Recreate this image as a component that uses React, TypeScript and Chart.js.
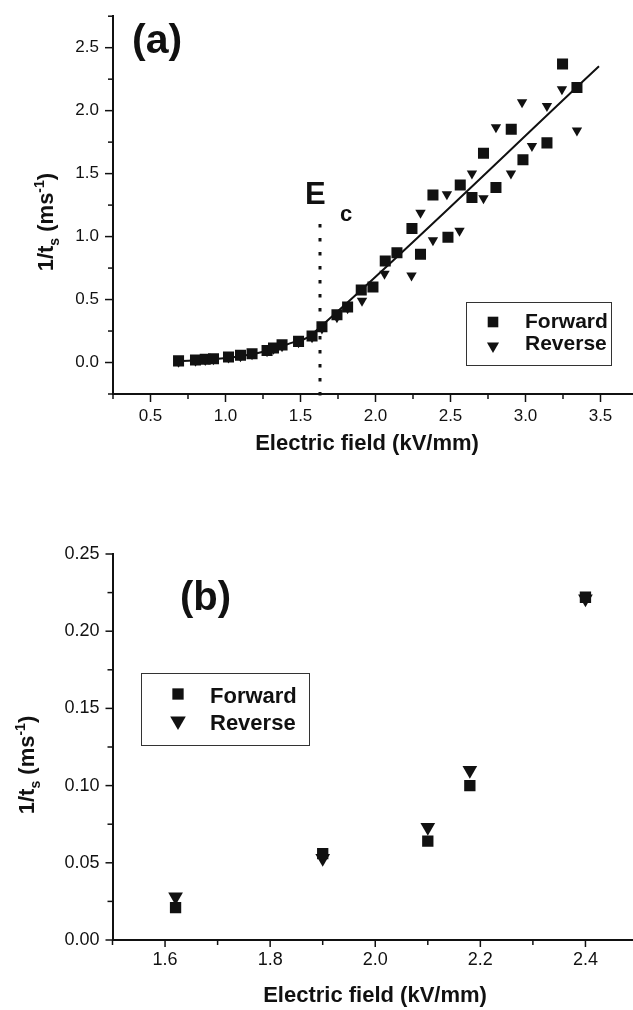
import React, { useEffect, useRef } from 'react';
import { Chart, registerables } from 'chart.js';

Chart.register(...registerables);

const FONT = '"Liberation Sans", Arial, Helvetica, sans-serif';
const INK = '#111111';

// ---------- Panel (a) data ----------
const aForwardX = [0.687, 0.80, 0.865, 0.92, 1.02, 1.10, 1.177, 1.277, 1.32, 1.377, 1.487, 1.577, 1.643, 1.743, 1.814, 1.905, 1.983, 2.065, 2.143, 2.243, 2.30, 2.383, 2.483, 2.565, 2.643, 2.72, 2.803, 2.905, 2.983, 3.143, 3.247, 3.343];
const aForwardY = [0.013, 0.02, 0.026, 0.03, 0.044, 0.057, 0.07, 0.096, 0.116, 0.14, 0.168, 0.21, 0.284, 0.38, 0.44, 0.575, 0.60, 0.806, 0.871, 1.065, 0.86, 1.331, 0.995, 1.409, 1.31, 1.662, 1.39, 1.853, 1.61, 1.744, 2.37, 2.184];
const aReverseX = [0.687, 0.80, 0.865, 0.92, 1.02, 1.10, 1.177, 1.277, 1.32, 1.377, 1.487, 1.577, 1.643, 1.743, 1.814, 1.91, 2.06, 2.24, 2.30, 2.383, 2.476, 2.56, 2.643, 2.72, 2.803, 2.903, 2.977, 3.043, 3.143, 3.243, 3.343];
const aReverseY = [0.006, 0.015, 0.02, 0.025, 0.04, 0.05, 0.065, 0.09, 0.11, 0.13, 0.16, 0.2, 0.27, 0.36, 0.43, 0.49, 0.705, 0.69, 1.19, 0.97, 1.336, 1.047, 1.5, 1.305, 1.868, 1.5, 2.067, 1.72, 2.036, 2.17, 1.843];
const aFitX = [0.68, 0.9, 1.1, 1.3, 1.45, 1.55, 1.63, 3.49];
const aFitY = [0.01, 0.025, 0.05, 0.1, 0.16, 0.2, 0.28, 2.352];
const aEcX = [1.63, 1.63];
const aEcY = [1.1, -0.27];
const aXTickLabels = ['0.5', '1.0', '1.5', '2.0', '2.5', '3.0', '3.5'];
const aYTickLabels = ['0.0', '0.5', '1.0', '1.5', '2.0', '2.5'];

// ---------- Panel (b) data ----------
const bForwardX = [1.62, 1.90, 2.10, 2.18, 2.40];
const bForwardY = [0.021, 0.056, 0.064, 0.100, 0.222];
const bReverseX = [1.62, 1.90, 2.10, 2.18, 2.40];
const bReverseY = [0.028, 0.053, 0.073, 0.110, 0.221];
const bXTickLabels = ['1.6', '1.8', '2.0', '2.2', '2.4'];
const bYTickLabels = ['0.00', '0.05', '0.10', '0.15', '0.20', '0.25'];

const seriesLabels = ['Forward', 'Reverse'];
const xTitle = 'Electric field (kV/mm)';

const pts = (xs: number[], ys: number[]) => xs.map((x, i) => ({ x, y: ys[i] }));

function labelFrom(labels: string[], value: number, decimals: number) {
  const s = Number(value).toFixed(decimals);
  return labels.includes(s) ? s : '';
}

function drawMarker(ctx: CanvasRenderingContext2D, style: string, x: number, y: number, r: number) {
  ctx.beginPath();
  if (style === 'rect') {
    const h = Math.SQRT1_2 * r;
    ctx.rect(x - h, y - h, 2 * h, 2 * h);
  } else {
    ctx.moveTo(x, y + r);
    ctx.lineTo(x - r * Math.sin(Math.PI / 3), y - r / 2);
    ctx.lineTo(x + r * Math.sin(Math.PI / 3), y - r / 2);
    ctx.closePath();
  }
  ctx.fillStyle = INK;
  ctx.fill();
}

function drawRich(ctx: CanvasRenderingContext2D, parts: any[], startX: number, baseY: number) {
  let x = startX;
  for (const p of parts) {
    ctx.font = `bold ${p.size}px ${FONT}`;
    ctx.fillText(p.t, x, baseY + (p.dy || 0));
    x += ctx.measureText(p.t).width;
  }
}

function richWidth(ctx: CanvasRenderingContext2D, parts: any[]) {
  let w = 0;
  for (const p of parts) {
    ctx.font = `bold ${p.size}px ${FONT}`;
    w += ctx.measureText(p.t).width;
  }
  return w;
}

const decoPlugin = {
  id: 'deco',
  afterDraw(chart: any, _args: any, opts: any) {
    const { ctx, chartArea } = chart;
    const xs = chart.scales.x;
    const ys = chart.scales.y;
    ctx.save();
    ctx.strokeStyle = INK;
    ctx.lineWidth = 1.5;
    for (const t of xs.ticks) {
      const px = xs.getPixelForValue(t.value);
      const len = t.label ? opts.majorLen : opts.minorLen;
      ctx.beginPath();
      ctx.moveTo(px, chartArea.bottom);
      ctx.lineTo(px, chartArea.bottom + len);
      ctx.stroke();
    }
    for (const t of ys.ticks) {
      const py = ys.getPixelForValue(t.value);
      const len = t.label ? opts.majorLen : opts.minorLen;
      ctx.beginPath();
      ctx.moveTo(chartArea.left, py);
      ctx.lineTo(chartArea.left - len, py);
      ctx.stroke();
    }

    ctx.fillStyle = INK;
    ctx.textBaseline = 'alphabetic';
    ctx.textAlign = 'left';

    const s = opts.yTitleSize;
    const parts = [
      { t: '1/t', size: s },
      { t: 's', size: Math.round(s * 0.62), dy: s * 0.25 },
      { t: ' (ms', size: s },
      { t: '-1', size: Math.round(s * 0.62), dy: -s * 0.42 },
      { t: ')', size: s },
    ];
    const w = richWidth(ctx, parts);
    const cy = (chartArea.top + chartArea.bottom) / 2 + opts.yTitleShift;
    ctx.save();
    ctx.translate(opts.yTitleBaseX, cy);
    ctx.rotate(-Math.PI / 2);
    drawRich(ctx, parts, -w / 2, 0);
    ctx.restore();

    ctx.font = `bold ${opts.xTitleSize}px ${FONT}`;
    ctx.textAlign = 'center';
    ctx.fillText(xTitle, opts.xTitleCenter, opts.xTitleBase);
    ctx.textAlign = 'left';

    ctx.font = `bold ${opts.panelSize}px ${FONT}`;
    ctx.fillText(opts.panelText, opts.panelX, opts.panelY);

    if (opts.ec) {
      const ex = xs.getPixelForValue(aEcX[0]);
      ctx.font = `bold 31px ${FONT}`;
      ctx.fillText('E', ex - 15, 204);
      ctx.font = `bold 22px ${FONT}`;
      ctx.fillText('c', ex + 20, 221);
    }

    const L = opts.legend;
    ctx.strokeStyle = '#333';
    ctx.lineWidth = 1;
    ctx.strokeRect(L.x + 0.5, L.y + 0.5, L.w, L.h);
    const styles = ['rect', 'triangle'];
    seriesLabels.forEach((lab, i) => {
      drawMarker(ctx, styles[i], L.mx, L.my[i], L.r[i]);
      ctx.font = `bold ${L.size}px ${FONT}`;
      ctx.fillStyle = INK;
      ctx.fillText(lab, L.tx, L.ty[i]);
    });
    ctx.restore();
  },
};

function scaleOpts(min: number, max: number, step: number, labels: string[], dec: number, fontSize: number, pad: number, tl: number, fit: (s: any) => void) {
  return {
    type: 'linear',
    min,
    max,
    afterFit: fit,
    ticks: {
      stepSize: step,
      autoSkip: false,
      maxRotation: 0,
      includeBounds: true,
      callback: (v: number) => labelFrom(labels, v, dec),
      font: { family: FONT, size: fontSize },
      color: INK,
      padding: pad,
    },
    grid: { drawOnChartArea: false, tickLength: tl, tickColor: 'rgba(0,0,0,0)' },
    border: { display: true, color: INK, width: 2 },
  };
}

function configA(): any {
  return {
    type: 'scatter',
    data: {
      datasets: [
        { label: seriesLabels[0], data: pts(aForwardX, aForwardY), pointStyle: 'rect', pointRadius: 7.8, pointBackgroundColor: INK, pointBorderWidth: 0, borderColor: INK },
        { label: seriesLabels[1], data: pts(aReverseX, aReverseY), pointStyle: 'triangle', rotation: 180, pointRadius: 6, pointBackgroundColor: INK, pointBorderWidth: 0, borderColor: INK },
        { label: 'Fit', type: 'line', data: pts(aFitX, aFitY), pointRadius: 0, borderColor: INK, borderWidth: 2, fill: false, tension: 0.3, cubicInterpolationMode: 'monotone' },
        { label: 'Ec', type: 'line', data: pts(aEcX, aEcY), pointRadius: 0, borderColor: INK, borderWidth: 3, borderDash: [3.5, 10.5], borderCapStyle: 'butt', fill: false, clip: false },
      ],
    },
    options: {
      responsive: false,
      animation: false,
      events: [],
      layout: { padding: { left: 0, top: 7, right: 22, bottom: 0 } },
      plugins: {
        legend: { display: false },
        tooltip: { enabled: false },
        deco: {
          majorLen: 8, minorLen: 5,
          yTitleSize: 22, yTitleBaseX: 53, yTitleShift: 17,
          xTitleSize: 22, xTitleCenter: 367, xTitleBase: 450,
          panelText: '(a)', panelSize: 41, panelX: 132, panelY: 53,
          ec: true,
          legend: { x: 466, y: 302, w: 145, h: 63, mx: 493, my: [322, 346], r: [7.5, 7], tx: 525, ty: [328, 350], size: 21 },
        },
      },
      scales: {
        x: scaleOpts(0.25, 3.75, 0.25, aXTickLabels, 1, 17, 4, 8, (s: any) => { s.height = 86; }),
        y: scaleOpts(-0.25, 2.75, 0.25, aYTickLabels, 1, 17, 6, 8, (s: any) => { s.width = 113; }),
      },
    },
    plugins: [decoPlugin],
  };
}

function configB(): any {
  return {
    type: 'scatter',
    data: {
      datasets: [
        { label: seriesLabels[0], data: pts(bForwardX, bForwardY), pointStyle: 'rect', pointRadius: 8, pointBackgroundColor: INK, pointBorderWidth: 0, borderColor: INK },
        { label: seriesLabels[1], data: pts(bReverseX, bReverseY), pointStyle: 'triangle', rotation: 180, pointRadius: 8.5, pointBackgroundColor: INK, pointBorderWidth: 0, borderColor: INK },
      ],
    },
    options: {
      responsive: false,
      animation: false,
      events: [],
      layout: { padding: { left: 0, top: 74, right: 22, bottom: 0 } },
      plugins: {
        legend: { display: false },
        tooltip: { enabled: false },
        deco: {
          majorLen: 7, minorLen: 5,
          yTitleSize: 22, yTitleBaseX: 34, yTitleShift: 18,
          xTitleSize: 22, xTitleCenter: 375, xTitleBase: 522,
          panelText: '(b)', panelSize: 40, panelX: 180, panelY: 130,
          ec: false,
          legend: { x: 141, y: 193, w: 168, h: 72, mx: 178, my: [214, 241], r: [8, 9], tx: 210, ty: [222.5, 250], size: 22 },
        },
      },
      scales: {
        x: scaleOpts(1.5, 2.5, 0.1, bXTickLabels, 1, 18, 2, 7, (s: any) => { s.height = 70; }),
        y: scaleOpts(0, 0.25, 0.025, bYTickLabels, 2, 18, 6, 7, (s: any) => { s.width = 112.5; }),
      },
    },
    plugins: [decoPlugin],
  };
}

export default function App() {
  const refA = useRef<HTMLCanvasElement>(null);
  const refB = useRef<HTMLCanvasElement>(null);

  useEffect(() => {
    const ca = new Chart(refA.current as HTMLCanvasElement, configA());
    const cb = new Chart(refB.current as HTMLCanvasElement, configB());
    return () => {
      ca.destroy();
      cb.destroy();
    };
  }, []);

  return (
    <div style={{ position: 'absolute', left: 0, top: 0, width: 633, height: 1010, overflow: 'hidden', background: '#ffffff' }}>
      <canvas ref={refA} width={660} height={480} style={{ position: 'absolute', left: 0, top: 0, width: 660, height: 480 }} />
      <canvas ref={refB} width={660} height={530} style={{ position: 'absolute', left: 0, top: 480, width: 660, height: 530 }} />
    </div>
  );
}
